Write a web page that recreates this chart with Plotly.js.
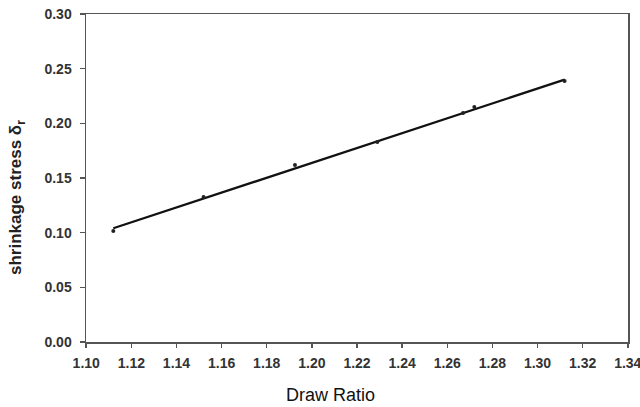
<!DOCTYPE html>
<html>
<head>
<meta charset="utf-8">
<script src="https://cdn.plot.ly/plotly-3.0.1.min.js"></script>
<style>html,body{margin:0;padding:0;background:#fff;}#chart{width:640px;height:407px;}</style>
</head>
<body>
<div id="chart"></div>
<script>
// Measured points (draw ratio vs shrinkage stress)
const drawRatio = [1.112, 1.152, 1.1925, 1.229, 1.267, 1.272, 1.312];
const shrinkStress = [0.1015, 0.1326, 0.162, 0.183, 0.2094, 0.215, 0.2387];
// Linear fit line end points
const fitX = [1.112, 1.312];
const fitY = [0.104, 0.240];
// Tick values
const xTicks = [1.10, 1.12, 1.14, 1.16, 1.18, 1.20, 1.22, 1.24, 1.26, 1.28, 1.30, 1.32, 1.34];
const yTicks = [0.00, 0.05, 0.10, 0.15, 0.20, 0.25, 0.30];

const traces = [
  {x: fitX, y: fitY, mode: 'lines', line: {color: '#111', width: 2.3}, hoverinfo: 'skip'},
  {x: drawRatio, y: shrinkStress, mode: 'markers', marker: {color: '#222', size: 4, symbol: 'circle'}}
];

const tickFont = {family: 'Liberation Sans, Arial, sans-serif', size: 14, color: '#333', weight: 'bold'};
const layout = {
  width: 640, height: 407,
  margin: {l: 86, r: 12, t: 14, b: 65},
  paper_bgcolor: '#fff', plot_bgcolor: '#fff',
  showlegend: false,
  xaxis: {
    range: [1.0999, 1.3401], tickvals: xTicks, ticktext: xTicks.map(v => v.toFixed(2)),
    showgrid: false, zeroline: false, showline: true, linecolor: '#555', linewidth: 1.5,
    mirror: true, ticks: 'outside', ticklen: 4, tickcolor: '#555', tickwidth: 1.5,
    ticklabelstandoff: 4, ticklabeloverflow: 'allow', tickfont: tickFont
  },
  yaxis: {
    range: [-0.0001, 0.3001], tickvals: yTicks, ticktext: yTicks.map(v => v.toFixed(2)),
    showgrid: false, zeroline: false, showline: true, linecolor: '#555', linewidth: 1.5,
    mirror: true, ticks: 'outside', ticklen: 5, tickcolor: '#555', tickwidth: 1.5,
    ticklabelstandoff: 5, tickfont: tickFont
  },
  annotations: [
    {
      text: 'Draw Ratio', xref: 'paper', yref: 'paper', x: (330 - 86) / 542, y: 0,
      yshift: -41, xanchor: 'center', yanchor: 'top', showarrow: false,
      font: {family: 'Liberation Sans, Arial, sans-serif', size: 18, color: '#111'}
    },
    {
      text: 'shrinkage stress δ<sub>r</sub>', xref: 'paper', yref: 'paper',
      x: 0, y: (342 - 198) / 328, xshift: -69, textangle: -90,
      xanchor: 'center', yanchor: 'middle', showarrow: false,
      font: {family: 'Liberation Sans, Arial, sans-serif', size: 17, color: '#222', weight: 'bold'}
    }
  ]
};
Plotly.newPlot('chart', traces, layout, {displayModeBar: false, staticPlot: true});
</script>
</body>
</html>
